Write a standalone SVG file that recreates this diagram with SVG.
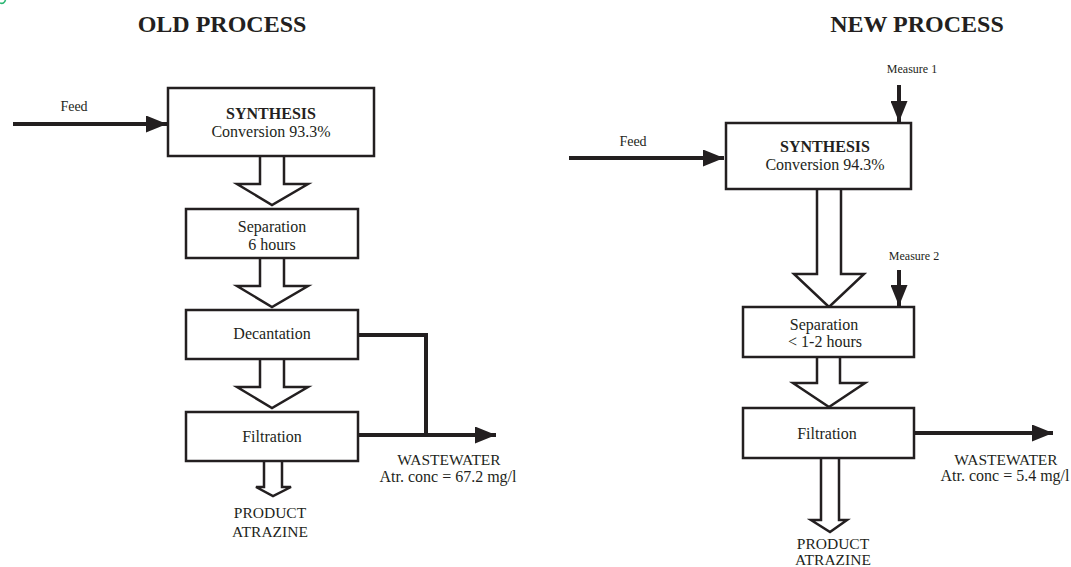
<svg xmlns="http://www.w3.org/2000/svg" width="1071" height="567" viewBox="0 0 1071 567">
<style>
text{font-family:"Liberation Serif","Times New Roman",serif;fill:#231f20;text-anchor:middle}
.title{font-size:24px;font-weight:bold}
.b{font-size:16px;font-weight:bold}
.t{font-size:16px}
.c{font-size:15.5px}
.s{font-size:14px}
.m{font-size:12px}
.box{fill:#fff;stroke:#231f20;stroke-width:2.5}
.hollow{fill:#fff;stroke:#231f20;stroke-width:2.5;stroke-linejoin:miter}
.flow{fill:none;stroke:#231f20;stroke-width:4}
</style>
<defs>
<marker id="ah" markerUnits="userSpaceOnUse" markerWidth="21" markerHeight="17" refX="21" refY="8.5" orient="auto" viewBox="0 0 21 17">
<path d="M0,0 L21,8.5 L0,17 z" fill="#231f20"/>
</marker>
</defs>
<path d="M0,3 Q4,4.5 5.5,0" fill="none" stroke="#2bb673" stroke-width="1.6"/>
<text class="title" x="222" y="32">OLD PROCESS</text>
<text class="title" x="917" y="32">NEW PROCESS</text>
<g id="connectors">
<line class="flow" x1="13" y1="124" x2="167" y2="124" marker-end="url(#ah)"/>
<path class="flow" d="M358,335 H426 V435"/>
<line class="flow" x1="358" y1="435" x2="496" y2="435" marker-end="url(#ah)"/>
<path class="hollow" d="M260,157 V184 H237 L272,205 L308,184 H284 V157"/>
<path class="hollow" d="M260,259 V286 H237 L272,307 L308,286 H284 V259"/>
<path class="hollow" d="M260,360 V387 H237 L272,408 L308,387 H284 V360"/>
<path class="hollow" d="M264,462 V487 H256 L273,496 L291,487 H282 V462"/>
<line class="flow" x1="569" y1="158" x2="724" y2="158" marker-end="url(#ah)"/>
<line class="flow" x1="899" y1="85" x2="899" y2="122" marker-end="url(#ah)"/>
<line class="flow" x1="899" y1="270" x2="899" y2="306" marker-end="url(#ah)"/>
<path class="hollow" d="M817,190 V274 H794 L829,307 L864,274 H841 V190"/>
<path class="hollow" d="M817,358 V383 H793 L829,407 L865,383 H840 V358"/>
<line class="flow" x1="914" y1="433" x2="1053" y2="433" marker-end="url(#ah)"/>
<path class="hollow" d="M821,459 V520 H811 L830,532 L847,520 H839 V459"/>
</g>
<text class="s" x="74" y="111">Feed</text>
<text class="s" x="633" y="146">Feed</text>
<text class="m" x="912" y="73">Measure 1</text>
<text class="m" x="914" y="260">Measure 2</text>
<g id="old-synthesis">
<rect class="box" x="168" y="88" width="206" height="68"/>
<text class="b" x="271" y="119">SYNTHESIS</text>
<text class="t" x="271" y="137">Conversion 93.3%</text>
</g>
<g id="old-separation">
<rect class="box" x="186" y="209" width="172" height="49"/>
<text class="t" x="272" y="232">Separation</text>
<text class="t" x="272" y="250">6 hours</text>
</g>
<g id="old-decantation">
<rect class="box" x="186" y="310" width="172" height="49"/>
<text class="t" x="272" y="339">Decantation</text>
</g>
<g id="old-filtration">
<rect class="box" x="186" y="412" width="172" height="49"/>
<text class="t" x="272" y="442">Filtration</text>
</g>
<g id="old-wastewater">
<text class="c" x="449" y="465">WASTEWATER</text>
<text class="t" x="448" y="482">Atr. conc = 67.2 mg/l</text>
</g>
<g id="old-product">
<text class="c" x="270" y="518">PRODUCT</text>
<text class="c" x="270" y="537">ATRAZINE</text>
</g>
<g id="new-synthesis">
<rect class="box" x="726" y="123" width="185" height="66"/>
<text class="b" x="825" y="152">SYNTHESIS</text>
<text class="t" x="825" y="170">Conversion 94.3%</text>
</g>
<g id="new-separation">
<rect class="box" x="743" y="307" width="171" height="50"/>
<text class="t" x="824" y="330">Separation</text>
<text class="t" x="825" y="347">&lt; 1-2 hours</text>
</g>
<g id="new-filtration">
<rect class="box" x="743" y="408" width="171" height="50"/>
<text class="t" x="827" y="439">Filtration</text>
</g>
<g id="new-wastewater">
<text class="c" x="1006" y="465">WASTEWATER</text>
<text class="t" x="1005" y="481">Atr. conc = 5.4 mg/l</text>
</g>
<g id="new-product">
<text class="c" x="833" y="549">PRODUCT</text>
<text class="c" x="833" y="565">ATRAZINE</text>
</g>
</svg>
